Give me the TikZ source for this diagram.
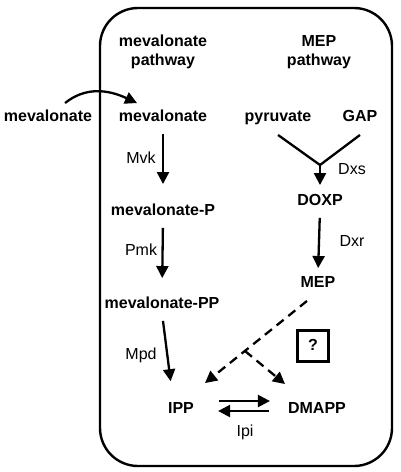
\documentclass[tikz,border=0pt]{standalone}
\usepackage{fontspec}
\setmainfont{Liberation Sans}
\usetikzlibrary{positioning,arrows.meta}

\begin{document}
\begin{tikzpicture}[x=1pt,y=-1pt,
    met/.style={font=\bfseries\fontsize{16}{19}\selectfont,align=center,inner sep=1pt,text height=12pt,text depth=3.5pt},
    enz/.style={font=\fontsize{16}{19}\selectfont,inner sep=1pt},
    rxn/.style={line width=2.3pt,-{Triangle[length=12pt,width=12pt]}},
    guess/.style={rxn,dash pattern=on 9pt off 6pt}]
      \useasboundingbox (0,0) rectangle (400,472);
      \draw[line width=2.4pt,rounded corners=38pt] (100,8) rectangle (392,466);
      % pathway titles
      \node[met,text height=,text depth=](mvpath) at (163,52){mevalonate\\pathway};
      \node[met,text height=,text depth=](meppath) at (319,52){MEP\\pathway};
      % metabolites
      \node[met](mvout) at (48,117){mevalonate};
      \node[met](mv) at (163,117){mevalonate};
      \node[met](pyr) at (278,117){pyruvate};
      \node[met](gap) at (360,117){GAP};
      \node[met](mvp) at (163,211){mevalonate-P};
      \node[met](mvpp) at (162,304){mevalonate-PP};
      \node[met](doxp) at (320,201){DOXP};
      \node[met](mep) at (318,283){MEP};
      \node[met](ipp) at (181,409){IPP};
      \node[met](dmapp) at (317,409){DMAPP};
      \node[draw,line width=2.3pt,minimum size=31pt,met](q) at (313,346){?};
      \coordinate (dxs) at (320,165);
      \coordinate (fork) at (245,351);
      % enzymes
      \node[enz](mvk) at (141,158){Mvk};
      \node[enz](pmk) at (141,250){Pmk};
      \node[enz](mpd) at (141,355){Mpd};
      \node[enz](dxsl) at (352,169){Dxs};
      \node[enz](dxr) at (352,241){Dxr};
      \node[enz](ipi) at (245,432){Ipi};
      % mevalonate pathway
      \draw[rxn] ([xshift=17pt,yshift=5pt]mvout.north) .. controls +(20,-16) and +(-30,-14) .. ([xshift=-26pt,yshift=5pt]mv.north);
      \draw[rxn,shorten <=8pt,shorten >=18pt] (mv.south) -- (mvp.north);
      \draw[rxn,shorten <=8pt,shorten >=17pt] (mvp.south) -- (mvpp.north);
      \draw[rxn,shorten <=8pt,shorten >=19pt] (mvpp.south) -- ([xshift=-8pt]ipp.north);
      % MEP pathway
      \draw[line width=2.3pt] ([yshift=-9pt]pyr.south) -- (dxs);
      \draw[line width=2.3pt] ([yshift=-9pt]gap.south) -- (dxs);
      \draw[rxn,shorten >=7pt] (dxs) -- (doxp.north);
      \draw[rxn,shorten <=8pt,shorten >=6pt] (doxp.south) -- (mep.north);
      \draw[guess] ([xshift=-11pt,yshift=-9pt]mep.south) -- ([xshift=24pt,yshift=17pt]ipp.north);
      \draw[guess] (fork) -- ([xshift=-32pt,yshift=16pt]dmapp.north);
      % isomerase
      \draw[rxn,shorten <=24pt,shorten >=17pt] ([yshift=8pt]ipp.east) -- ([yshift=8pt]dmapp.west);
      \draw[rxn,shorten <=18pt,shorten >=23pt] ([yshift=-2pt]dmapp.west) -- ([yshift=-2pt]ipp.east);
\end{tikzpicture}
\end{document}
